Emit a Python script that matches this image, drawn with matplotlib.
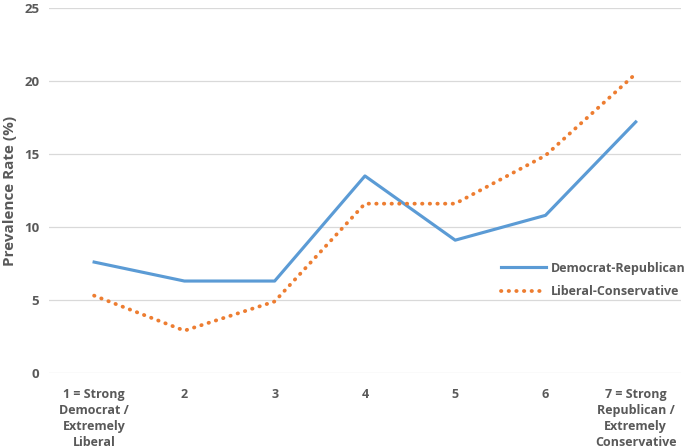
import numpy as np
import matplotlib.pyplot as plt
import matplotlib

categories = ['1 = Strong\nDemocrat /\nExtremely\nLiberal', '2', '3', '4', '5', '6',
              '7 = Strong\nRepublican /\nExtremely\nConservative']
dem_rep = [7.6, 6.3, 6.3, 13.5, 9.1, 10.8, 17.2]
lib_con = [5.3, 2.9, 4.9, 11.6, 11.6, 14.9, 20.5]
y_ticks = [0, 5, 10, 15, 20, 25]

matplotlib.rc('font', family=['Open Sans', 'DejaVu Sans'], size=9, weight='bold')
text_color = '#595959'

fig = plt.figure(figsize=(6.85, 4.48), dpi=100)
ax = fig.add_axes([0.0715, 0.1674, 0.9225, 0.8146])

x = np.arange(len(categories))
ax.plot(x, dem_rep, color='#5B9BD5', lw=2.25, label='Democrat-Republican')
ax.plot(x, lib_con, color='#ED7D31', lw=2.75, linestyle=(0, (0.1, 1.9)),
        dash_capstyle='round', label='Liberal-Conservative')

ax.set_xlim(-0.5, len(categories) - 0.5)
ax.set_ylim(0, 25)
ax.set_yticks(y_ticks)
ax.set_xticks(x)
ax.set_xticklabels(categories, va='top', linespacing=1.3)
ax.grid(axis='y', color='#D9D9D9', lw=0.9)
ax.set_axisbelow(True)
for s in ax.spines.values():
    s.set_visible(False)
ax.tick_params(length=0, colors=text_color, labelsize=9.5)
ax.tick_params(axis='x', pad=11, labelsize=9)
ax.tick_params(axis='y', pad=7)
ax.set_ylabel('Prevalence Rate (%)', color=text_color, fontsize=11,
              fontweight='bold', labelpad=5)

leg = ax.legend(loc='upper left', bbox_to_anchor=(0.715, 0.305), frameon=False,
                borderaxespad=0, borderpad=0,
                handlelength=3.6, handletextpad=0.4, labelspacing=0.85, fontsize=9)
for t in leg.get_texts():
    t.set_color(text_color)

fig.savefig('out.png', dpi=100)
